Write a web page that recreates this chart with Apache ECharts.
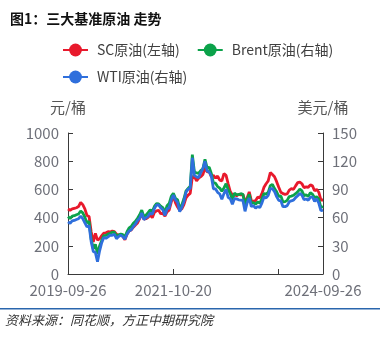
<!DOCTYPE html>
<html>
<head>
<meta charset="utf-8">
<script src="https://cdn.jsdelivr.net/npm/echarts@6/dist/echarts.min.js"></script>
<style>
html,body{margin:0;padding:0;background:#fff;}
#c{width:380px;height:337px;}
</style>
</head>
<body>
<div id="c"></div>
<script>
var dates = [
'2019-09-26','2019-10-11','2019-10-26','2019-11-10','2019-11-25','2019-12-11','2019-12-26','2020-01-10','2020-01-25','2020-02-09',
'2020-02-24','2020-03-10','2020-03-25','2020-04-09','2020-04-24','2020-05-10','2020-05-25','2020-06-09','2020-06-24','2020-07-09',
'2020-07-24','2020-08-08','2020-08-23','2020-09-07','2020-09-22','2020-10-08','2020-10-23','2020-11-07','2020-11-22','2020-12-07',
'2020-12-22','2021-01-06','2021-01-21','2021-02-05','2021-02-20','2021-03-08','2021-03-23','2021-04-07','2021-04-22','2021-05-07',
'2021-05-22','2021-06-06','2021-06-21','2021-07-06','2021-07-21','2021-08-06','2021-08-21','2021-09-05','2021-09-20','2021-10-05',
'2021-10-20','2021-11-04','2021-11-19','2021-12-04','2021-12-19','2022-01-04','2022-01-19','2022-02-03','2022-02-18','2022-03-05',
'2022-03-20','2022-04-04','2022-04-19','2022-05-04','2022-05-19','2022-06-04','2022-06-19','2022-07-04','2022-07-19','2022-08-03',
'2022-08-18','2022-09-02','2022-09-17','2022-10-02','2022-10-17','2022-11-02','2022-11-17','2022-12-02','2022-12-17','2023-01-01',
'2023-01-16','2023-01-31','2023-02-15','2023-03-02','2023-03-17','2023-04-02','2023-04-17','2023-05-02','2023-05-17','2023-06-01',
'2023-06-16','2023-07-01','2023-07-16','2023-07-31','2023-08-15','2023-08-31','2023-09-15','2023-09-30','2023-10-15','2023-10-30',
'2023-11-14','2023-11-29','2023-12-14','2023-12-29','2024-01-13','2024-01-29','2024-02-13','2024-02-28','2024-03-14','2024-03-29',
'2024-04-13','2024-04-28','2024-05-13','2024-05-28','2024-06-12','2024-06-28','2024-07-13','2024-07-28','2024-08-12','2024-08-27',
'2024-09-11','2024-09-26'
];

var scOil = [
461,452,462,466,470,478,508,492,462,415,
408,300,228,288,240,250,272,290,292,300,
298,304,300,282,276,278,268,242,282,305,
312,332,348,362,392,428,390,392,402,418,
400,436,448,452,428,430,410,440,452,510,
555,505,475,452,462,492,540,560,572,690,
690,660,680,690,705,755,725,728,690,700,
680,695,665,660,712,700,640,585,560,565,
555,565,560,565,515,540,582,520,515,520,
545,540,570,615,640,660,720,705,690,655,
615,580,570,565,568,595,605,600,625,648,
652,640,612,618,615,632,625,590,600,580,
525,525
];

var brentOil = [
61,59,61.5,62,63,63.8,67,65,60.5,54.5,
56,37,27,31.5,21.5,30,35.5,40.8,41,42.5,
43.3,44.4,44.4,40.5,41.5,42.5,41.8,39.5,45,49,
50.5,54,56,59.3,63,68,61,62.7,65.4,68.3,
66.4,71.9,74.9,74.5,72.2,70.7,65.2,72.6,74.9,82.6,
85.8,80.5,78.9,70,73.5,80,88.4,91,93.5,127,
108,107.5,107,110,112,122,113,113.5,107,97,
96.6,93,91.4,88,91.6,96,89.8,85.6,79,85.9,
84.5,84.5,85.4,84.8,72.9,79.8,84.8,75.3,76,74.3,
76.6,75.4,79.9,85.5,85,86.9,93.9,95.3,90.9,87.4,
82.5,83.1,76.6,77,78.3,82.4,82.8,83.7,85.4,87.5,
90.4,88.4,83.4,84.2,82.6,86.4,85,81.1,82.3,79.6,
70.6,72
];

var wtiOil = [
55.5,54,56.5,57,58,58.8,61.5,59,54.5,50.3,
51.4,34.4,24,22.8,13,24.7,33.3,38.9,38,39.6,
41.3,41.2,42.3,37.5,39.8,41.2,39.8,37.1,42.4,45.8,
47,50.6,53.1,56.9,59.2,65,57.8,59.8,61.4,64.9,
63.6,69.6,73.6,73.4,70.3,68.3,62.3,69.3,70.3,78.9,
83.9,78.8,76.1,66.3,70.9,77,86.9,90.3,91.1,123.7,
104.7,103.3,102.6,107.8,112.2,120,109.6,108.4,104.2,90.7,
90.5,86.9,85.1,79.5,85.5,90,81.6,80,74.3,80.3,
79.9,78.9,78.6,78.2,66.7,75.7,80.8,71.7,72.8,70.1,
71.8,70.6,75.4,81.8,80.9,83.6,90.8,90.8,87.7,82.3,
78.3,77.9,71.6,71.7,72.7,76.8,77.9,78.5,81.3,83.2,
85.7,83.9,79.1,79.8,78.5,81.5,82.2,77.2,80,75.5,
67.3,68
];

var seriesNames = ['SC原油(左轴)', 'Brent原油(右轴)', 'WTI原油(右轴)'];
var leftTicks = {min: 0, max: 1000, interval: 200};
var rightTicks = {min: 0, max: 150, interval: 30};
var tickIdx = [0, 50, 100, 121];
var labelIdx = [0, 50, 121];

var FONT = 'Noto Sans CJK SC';
var AXIS_COLOR = '#3a3a3a';
var LABEL_COLOR = '#6E7079';

var chart = echarts.init(document.getElementById('c'), null, {renderer: 'canvas'});
chart.setOption({
  animation: false,
  textStyle: {fontFamily: FONT},
  title: {
    text: '图1：三大基准原油 走势',
    left: 5, top: 7,
    textStyle: {fontSize: 14, fontWeight: 'bold', color: '#111', fontFamily: FONT}
  },
  legend: [{
    data: [seriesNames[0], seriesNames[1]],
    left: 57, top: 38,
    itemWidth: 25, itemHeight: 16, itemGap: 17,
    textStyle: {fontSize: 14, color: '#404040', fontFamily: FONT, padding: [0,0,0,4]}
  }, {
    data: [seriesNames[2]],
    left: 57, top: 65,
    itemWidth: 25, itemHeight: 16,
    textStyle: {fontSize: 14, color: '#404040', fontFamily: FONT, padding: [0,0,0,4]}
  }],
  grid: {left: 68, right: 57, top: 133, bottom: 63},
  xAxis: {
    type: 'category',
    data: dates,
    boundaryGap: false,
    axisLine: {lineStyle: {color: AXIS_COLOR, width: 1}},
    axisTick: {inside: true, length: 5, lineStyle: {color: AXIS_COLOR},
      interval: function (i) { return tickIdx.indexOf(i) >= 0; }},
    axisLabel: {
      interval: function (i) { return labelIdx.indexOf(i) >= 0; },
      color: LABEL_COLOR, fontSize: 15, margin: 9, fontFamily: FONT
    },
    splitLine: {show: false}
  },
  yAxis: [{
    type: 'value',
    min: leftTicks.min, max: leftTicks.max, interval: leftTicks.interval,
    name: '元/桶', nameGap: 18,
    nameTextStyle: {color: '#555', fontSize: 15, fontFamily: FONT},
    axisLine: {show: true, lineStyle: {color: AXIS_COLOR}},
    axisTick: {show: true, inside: true, length: 5, lineStyle: {color: AXIS_COLOR}},
    axisLabel: {color: LABEL_COLOR, fontSize: 15, margin: 9, fontFamily: FONT,
      formatter: function (v) { return String(v); }},
    splitLine: {show: false}
  }, {
    type: 'value',
    position: 'right',
    min: rightTicks.min, max: rightTicks.max, interval: rightTicks.interval,
    name: '美元/桶', nameGap: 18,
    nameTextStyle: {color: '#555', fontSize: 15, fontFamily: FONT},
    axisLine: {show: true, lineStyle: {color: AXIS_COLOR}},
    axisTick: {show: true, inside: true, length: 5, lineStyle: {color: AXIS_COLOR}},
    axisLabel: {color: LABEL_COLOR, fontSize: 15, margin: 9, fontFamily: FONT,
      formatter: function (v) { return String(v); }},
    splitLine: {show: false}
  }],
  series: [{
    name: seriesNames[0], type: 'line', yAxisIndex: 0, data: scOil,
    symbol: 'circle', showSymbol: false, symbolSize: 12,
    itemStyle: {color: '#e8192c'},
    lineStyle: {color: '#e8192c', width: 2.8}
  }, {
    name: seriesNames[1], type: 'line', yAxisIndex: 1, data: brentOil,
    symbol: 'circle', showSymbol: false, symbolSize: 12,
    itemStyle: {color: '#0ba24a'},
    lineStyle: {color: '#0ba24a', width: 2.8}
  }, {
    name: seriesNames[2], type: 'line', yAxisIndex: 1, data: wtiOil,
    symbol: 'circle', showSymbol: false, symbolSize: 12,
    itemStyle: {color: '#2f6fdc'},
    lineStyle: {color: '#2f6fdc', width: 2.8}
  }],
  graphic: [{
    type: 'rect', left: 0, top: 308,
    shape: {width: 380, height: 1.5},
    style: {fill: '#2a66ad'}
  }, {
    type: 'text', left: 5, top: 314,
    style: {text: '资料来源：同花顺，方正中期研究院', fontSize: 13, fontStyle: 'italic',
      fontFamily: FONT, fill: '#333'}
  }]
});
</script>
</body>
</html>
